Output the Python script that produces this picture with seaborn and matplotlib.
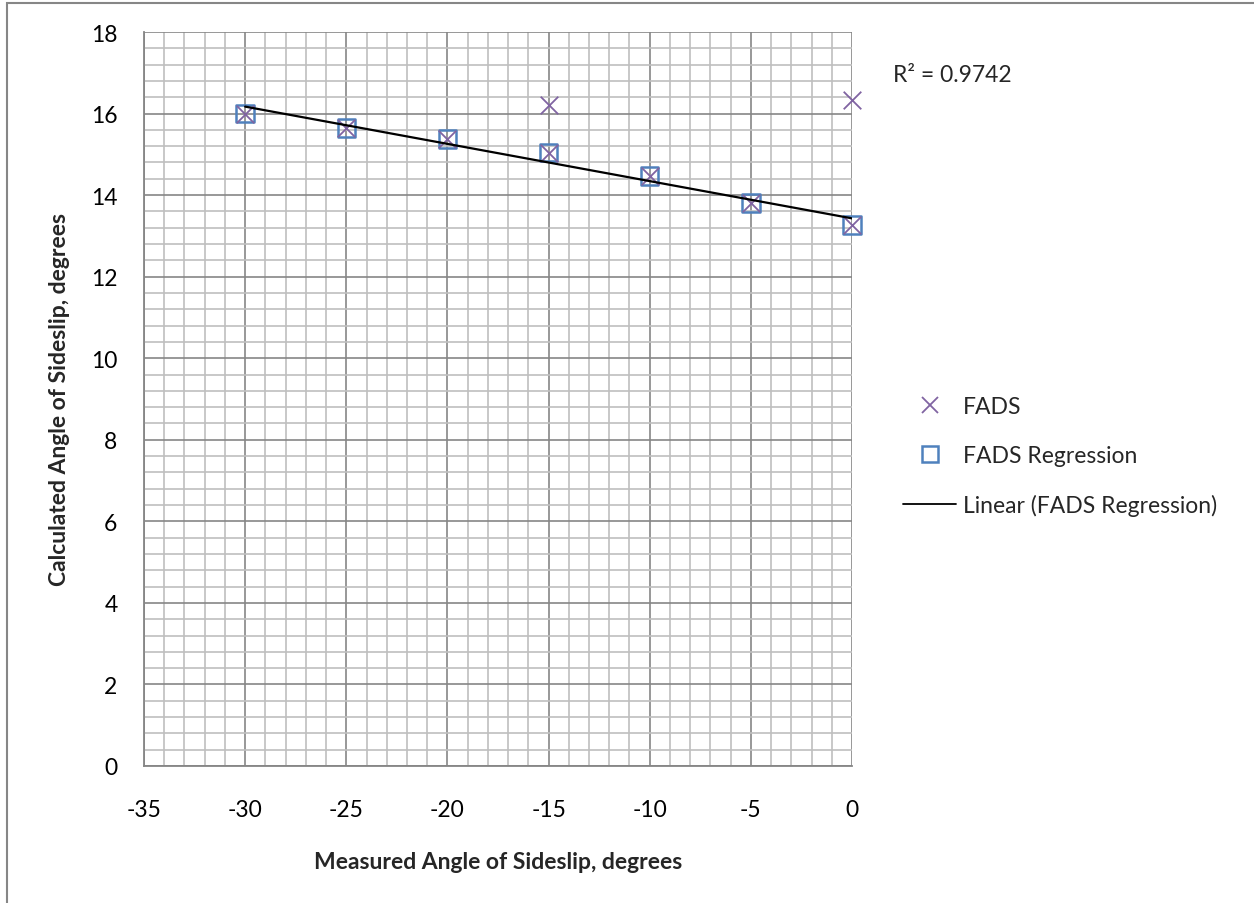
import numpy as np
import pandas as pd
import matplotlib
matplotlib.use("Agg")
import matplotlib.pyplot as plt
from matplotlib.lines import Line2D
from matplotlib.patches import Rectangle
from matplotlib.ticker import MultipleLocator
import seaborn as sns

# ---- data ----
fads_x = [-30, -25, -20, -15, -15, -10, -5, 0, 0]
fads_y = [16.0, 15.65, 15.37, 15.04, 16.2, 14.47, 13.80, 13.27, 16.33]
reg_x = [-30, -25, -20, -15, -10, -5, 0]
reg_y = [16.0, 15.65, 15.37, 15.04, 14.47, 13.80, 13.27]
r2_label = "R² = 0.9742"
x_label = "Measured Angle of Sideslip, degrees"
y_label = "Calculated Angle of Sideslip, degrees"

sns.set_style("white")
plt.rcParams['font.family'] = ['Lato', 'DejaVu Sans']
plt.rcParams['axes.unicode_minus'] = False

W, H = 1254, 904
fig = plt.figure(figsize=(W / 100, H / 100), dpi=100)
ax = fig.add_axes([144 / W, 1 - 767 / H, (852 - 144) / W, (767 - 33) / H])

purple = "#8064A2"
blue = "#4F81BD"

df_f = pd.DataFrame({"x": fads_x, "y": fads_y})
df_r = pd.DataFrame({"x": reg_x, "y": reg_y})

sns.scatterplot(data=df_r, x="x", y="y", ax=ax, marker="s", s=160,
                facecolor="none", edgecolor=blue, linewidth=1.8, zorder=3, legend=False,
                clip_on=False)
sns.scatterplot(data=df_f, x="x", y="y", ax=ax, marker="x", s=160,
                color=purple, linewidth=1.3, zorder=4, legend=False, clip_on=False)

# linear trendline of regression series
coef = np.polyfit(reg_x, reg_y, 1)
xs = np.array([min(reg_x), max(reg_x)])
sns.lineplot(x=xs, y=np.polyval(coef, xs), ax=ax, color="black", linewidth=1.6, zorder=5)

ax.set_xlim(-35, 0)
ax.set_ylim(0, 18)
ax.xaxis.set_major_locator(MultipleLocator(5))
ax.xaxis.set_minor_locator(MultipleLocator(1))
ax.yaxis.set_major_locator(MultipleLocator(2))
ax.yaxis.set_minor_locator(MultipleLocator(0.4))
ax.grid(which="minor", color="#BFBFBF", linewidth=1.2, zorder=0)
ax.grid(which="major", color="#868686", linewidth=1.2, zorder=1)
ax.set_axisbelow(True)
for s in ax.spines.values():
    s.set_visible(False)
ax.spines["left"].set_visible(True)
ax.spines["bottom"].set_visible(True)
ax.spines["left"].set_color("#868686")
ax.spines["bottom"].set_color("#868686")
ax.spines["left"].set_linewidth(1.3)
ax.spines["bottom"].set_linewidth(1.3)
ax.tick_params(which="both", length=0, labelsize=16.5, colors="black")
ax.tick_params(axis="x", pad=24)
ax.tick_params(axis="y", pad=19)

ax.set_xlabel(x_label, fontsize=16.5, fontweight="bold", labelpad=22)
ax.set_ylabel(y_label, fontsize=16.5, fontweight="bold", labelpad=15)

fig.text(893 / W, 1 - 75 / H, r2_label, fontsize=16.5, va="center", ha="left")

handles = [
    Line2D([], [], marker="x", color=purple, linestyle="none", markersize=12, markeredgewidth=1.3),
    Line2D([], [], marker="s", markerfacecolor="none", markeredgecolor=blue, linestyle="none",
           markersize=12, markeredgewidth=1.8),
    Line2D([], [], color="black", linewidth=1.3),
]
labels = ["FADS", "FADS Regression", "Linear (FADS Regression)"]
fig.legend(handles, labels, loc="center left", bbox_to_anchor=(892 / W, 1 - 457 / H),
           frameon=False, fontsize=16.5, handlelength=2.3, handletextpad=0.3, labelspacing=1.2,
           borderpad=0)

fig.add_artist(Rectangle((7 / W, -0.01), 1.1, 1 - 4 / H + 0.01, transform=fig.transFigure,
                         fill=False, edgecolor="#868686", linewidth=1.5))

fig.savefig("out.png", dpi=100)
